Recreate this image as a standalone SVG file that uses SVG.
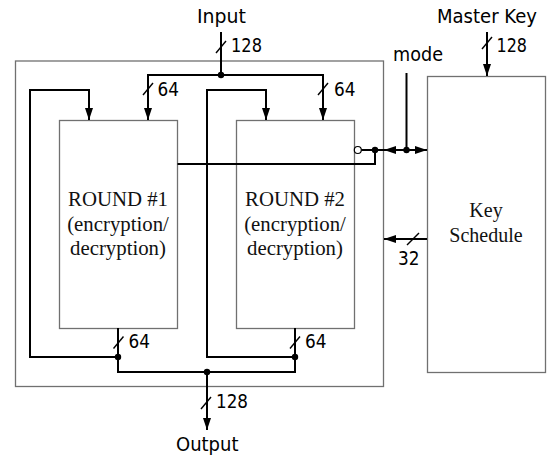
<svg xmlns="http://www.w3.org/2000/svg" width="547" height="457" viewBox="0 0 547 457">
  <style>
    .box { fill: none; stroke: #707070; stroke-width: 1.3; }
    .wire { fill: none; stroke: #000; stroke-width: 2; }
    .arr { marker-end: url(#ah); }
    .slash { stroke: #000; stroke-width: 1.4; }
    .dot { fill: #000; }
    .lbl { font-family: "DejaVu Sans", Verdana, sans-serif; font-size: 19px; fill: #000; }
    .blk { font-family: "Liberation Serif", "Times New Roman", serif; fill: #111; text-anchor: middle; }
  </style>
  <defs>
    <marker id="ah" markerUnits="userSpaceOnUse" markerWidth="12" markerHeight="8" viewBox="0 0 12 8" refX="12" refY="4" orient="auto">
      <path d="M0,0 L12,4 L0,8 z" fill="#000"/>
    </marker>
  </defs>

  <!-- enclosing datapath -->
  <rect id="datapath" class="box" x="15.5" y="61" width="368" height="325.5"/>

  <g id="round1">
    <rect class="box" x="59.5" y="120.5" width="118" height="208"/>
    <text class="blk" font-size="20.8" x="118" y="206">ROUND #1</text>
    <text class="blk" font-size="20.8" x="118" y="230.5">(encryption/</text>
    <text class="blk" font-size="20.8" x="118" y="255">decryption)</text>
  </g>

  <g id="round2">
    <rect class="box" x="236.5" y="120.5" width="118" height="208"/>
    <text class="blk" font-size="20.8" x="295" y="206">ROUND #2</text>
    <text class="blk" font-size="20.8" x="295" y="230.5">(encryption/</text>
    <text class="blk" font-size="20.8" x="295" y="255">decryption)</text>
    <circle cx="357.8" cy="150" r="3.5" fill="#fff" stroke="#000" stroke-width="1.2"/>
  </g>

  <g id="keyschedule">
    <rect class="box" x="427.5" y="76.5" width="118" height="296"/>
    <text class="blk" font-size="20" x="486" y="217">Key</text>
    <text class="blk" font-size="20" x="486" y="242">Schedule</text>
  </g>

  <g id="connectors">
    <!-- input bus split into two 64-bit halves -->
    <path class="wire" d="M221,32 V75"/>
    <path class="wire arr" d="M221,75 H148 V120"/>
    <path class="wire arr" d="M221,75 H323 V120"/>
    <!-- feedback loops -->
    <path class="wire arr" d="M118,357 H30 V90 H89 V120"/>
    <path class="wire arr" d="M295,357 H207 V90 H266 V120"/>
    <!-- outputs merged -->
    <path class="wire" d="M118,328 V372 H295 V328"/>
    <path class="wire arr" d="M207,372 V430"/>
    <!-- master key -->
    <path class="wire arr" d="M487,32 V76"/>
    <!-- mode -->
    <path class="wire" d="M406.5,73 V150"/>
    <path class="wire" d="M361.3,150 H375 V164 H177.5"/>
    <path class="wire arr" d="M375,150 H427"/>
    <path class="wire arr" d="M397,150 H384"/>
    <!-- round key -->
    <path class="wire arr" d="M427,239 H384"/>

    <!-- junction dots -->
    <circle class="dot" cx="221" cy="75" r="3.2"/>
    <circle class="dot" cx="375" cy="150" r="3.2"/>
    <circle class="dot" cx="406.5" cy="150" r="3.2"/>
    <circle class="dot" cx="118" cy="357" r="3.2"/>
    <circle class="dot" cx="295" cy="357" r="3.2"/>
    <circle class="dot" cx="207" cy="372" r="3.2"/>

    <!-- bus width slashes -->
    <line class="slash" x1="216" y1="53" x2="226" y2="41"/>
    <line class="slash" x1="143" y1="95" x2="153" y2="83"/>
    <line class="slash" x1="318" y1="95" x2="328" y2="83"/>
    <line class="slash" x1="482" y1="49" x2="492" y2="37"/>
    <line class="slash" x1="407" y1="245" x2="419" y2="233"/>
    <line class="slash" x1="113.5" y1="348.5" x2="123.5" y2="336.5"/>
    <line class="slash" x1="290" y1="348.5" x2="300" y2="336.5"/>
    <line class="slash" x1="201" y1="409" x2="211" y2="397"/>
  </g>

  <g id="labels">
    <text class="lbl" x="197" y="23" textLength="49" lengthAdjust="spacingAndGlyphs">Input</text>
    <text class="lbl" x="231" y="52" textLength="31" lengthAdjust="spacingAndGlyphs">128</text>
    <text class="lbl" x="157.5" y="96" textLength="21.5" lengthAdjust="spacingAndGlyphs">64</text>
    <text class="lbl" x="334" y="96" textLength="21.5" lengthAdjust="spacingAndGlyphs">64</text>
    <text class="lbl" x="393" y="61" textLength="50" lengthAdjust="spacingAndGlyphs">mode</text>
    <text class="lbl" x="437" y="23" textLength="100" lengthAdjust="spacingAndGlyphs">Master Key</text>
    <text class="lbl" x="496.5" y="52" textLength="30.5" lengthAdjust="spacingAndGlyphs">128</text>
    <text class="lbl" x="398" y="265" textLength="21.5" lengthAdjust="spacingAndGlyphs">32</text>
    <text class="lbl" x="128.5" y="348" textLength="21.5" lengthAdjust="spacingAndGlyphs">64</text>
    <text class="lbl" x="305" y="348" textLength="21.5" lengthAdjust="spacingAndGlyphs">64</text>
    <text class="lbl" x="216" y="408" textLength="32" lengthAdjust="spacingAndGlyphs">128</text>
    <text class="lbl" x="176" y="451" textLength="62.5" lengthAdjust="spacingAndGlyphs">Output</text>
  </g>
</svg>
